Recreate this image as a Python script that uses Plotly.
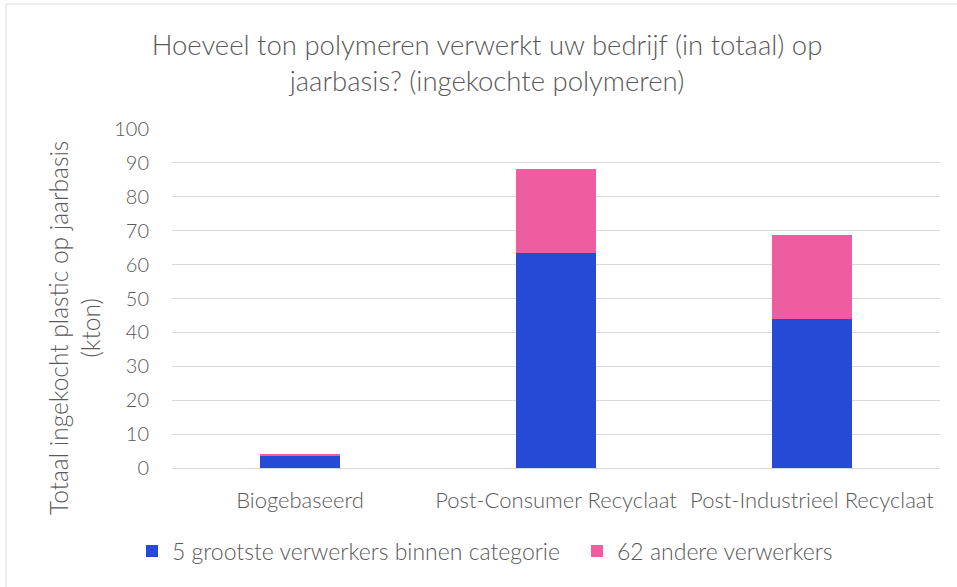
import plotly.graph_objects as go

categories = ["Biogebaseerd", "Post-Consumer Recyclaat", "Post-Industrieel Recyclaat"]
top5 = [3.7, 63.5, 44.0]
others = [0.5, 24.7, 24.8]
series_names = ["5 grootste verwerkers binnen categorie", "62 andere verwerkers"]
y_ticks = [0, 10, 20, 30, 40, 50, 60, 70, 80, 90, 100]

FONT = "Lato"
GRAY = "#595959"

L, R, T, B = 172, 17, 129, 119
PW, PH = 957 - L - R, 587 - T - B

fig = go.Figure()
fig.add_trace(go.Bar(x=categories, y=top5, name=series_names[0], legendwidth=400,
                     marker=dict(color="#2649D6", line=dict(width=0))))
fig.add_trace(go.Bar(x=categories, y=others, name=series_names[1],
                     marker=dict(color="#EF5DA1", line=dict(width=0))))

fig.update_layout(
    barmode="stack",
    bargap=0.69,
    width=957, height=587,
    paper_bgcolor="white", plot_bgcolor="white",
    font=dict(family=FONT, color=GRAY, size=18, weight=300),
    margin=dict(l=L, r=R, t=T, b=B, pad=0),
    title=dict(text="Hoeveel ton polymeren verwerkt uw bedrijf (in totaal) op<br>jaarbasis? (ingekochte polymeren)",
               x=487 / 957, xanchor="center", y=1 - 55 / 587, yanchor="middle",
               font=dict(family=FONT, size=27.5, color=GRAY, weight=300)),
    showlegend=True,
    legend=dict(orientation="h", x=(132 - L) / PW, xanchor="left",
                y=-(551 - 468) / PH, yanchor="middle",
                font=dict(size=23, color=GRAY, weight=300), traceorder="normal",
                itemwidth=30),
    xaxis=dict(showgrid=False, showline=True, linecolor="#D9D9D9", linewidth=1,
               ticks="", ticklabelstandoff=13,
               tickfont=dict(size=22, color=GRAY, weight=300)),
    yaxis=dict(range=[0, 100], tickvals=y_ticks, showgrid=True, gridcolor="#D9D9D9",
               gridwidth=1, zeroline=False, showline=False, ticks="",
               tickfont=dict(size=20, color=GRAY, weight=300), ticklabelstandoff=22),
)

fig.add_annotation(text="Totaal ingekocht plastic op jaarbasis<br>(kton)",
                   textangle=-90, xref="paper", yref="paper",
                   x=(74 - L) / PW, y=(468 - 328) / PH, xanchor="center", yanchor="middle",
                   showarrow=False, font=dict(size=24.5, color=GRAY, weight=300))

fig.add_shape(type="rect", xref="paper", yref="paper",
              x0=(6 - L) / PW, x1=(962 - L) / PW, y0=(468 - 592) / PH, y1=(468 - 4) / PH,
              line=dict(color="#D9D9D9", width=1), fillcolor="rgba(0,0,0,0)", layer="below")

fig.write_html("out.html", config={"displayModeBar": False},
               post_script="document.body.style.margin='0';document.body.style.overflow='hidden';")
